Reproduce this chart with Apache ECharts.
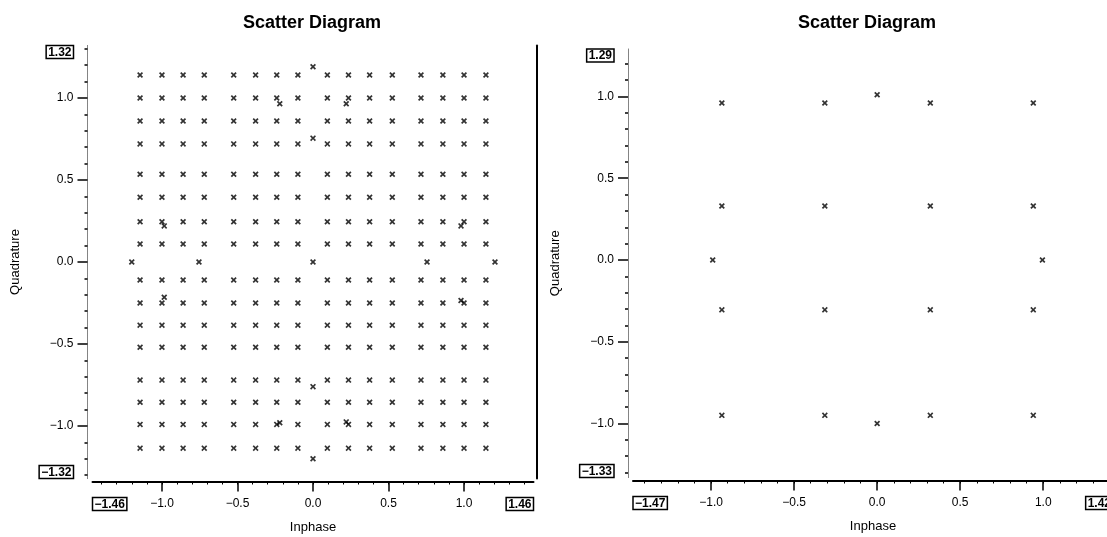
<!DOCTYPE html>
<html>
<head>
<meta charset="utf-8">
<script src="https://cdn.jsdelivr.net/npm/echarts@6/dist/echarts.min.js"></script>
<style>
  html, body { margin: 0; padding: 0; background: #fff; }
  #chart { width: 1107px; height: 537px; }
</style>
</head>
<body>
<div id="chart"></div>
<script>
// left diagram: 16 x 16 grid of levels plus some extra points
const leftXLevels = [-1.145, -1.0, -0.86, -0.72, -0.525, -0.38, -0.24, -0.1, 0.095, 0.235, 0.375, 0.525, 0.715, 0.86, 1.0, 1.145];
const leftYLevels = [1.14, 1.0, 0.86, 0.72, 0.535, 0.395, 0.245, 0.11, -0.11, -0.25, -0.385, -0.52, -0.72, -0.855, -0.99, -1.135];
const leftExtra = [
  [0, 1.19], [0, 0.755], [0, 0], [0, -0.76], [0, -1.2],
  [-1.2, 0], [-0.755, 0], [0.755, 0], [1.205, 0],
  [-0.22, 0.965], [0.22, 0.965], [-0.985, 0.22], [0.98, 0.22],
  [-0.985, -0.215], [0.98, -0.235], [-0.22, -0.98], [0.22, -0.975]
];
const leftXRange = [-1.46, 1.46];
const leftYRange = [-1.32, 1.32];

// right diagram: 4 x 4 plus four points on the axes
const rightXLevels = [-0.935, -0.315, 0.32, 0.94];
const rightYLevels = [0.96, 0.33, -0.305, -0.95];
const rightExtra = [[0, 1.01], [-0.99, 0], [0.995, 0], [0, -1.0]];
const rightXRange = [-1.47, 1.42];
const rightYRange = [-1.33, 1.29];

const majorTicks = [-1.0, -0.5, 0.0, 0.5, 1.0];

const FONT = "'Liberation Sans', Arial, sans-serif";
const CROSS = 'path://M0,2L2,0L5,3L8,0L10,2L7,5L10,8L8,10L5,7L2,10L0,8L3,5Z';

function gridPoints(xs, ys, extra) {
  let pts = [];
  ys.forEach((y) => {
    xs.forEach((x) => pts.push([x, y]));
  });
  return pts.concat(extra);
}

function minorTicks(range) {
  let out = [];
  for (let i = Math.ceil(range[0] * 10); i <= Math.floor(range[1] * 10); i++) {
    out.push(i / 10);
  }
  return out;
}

function fmt(range) {
  return function (v) {
    if (Math.abs(v - range[0]) < 1e-6 || Math.abs(v - range[1]) < 1e-6) {
      return '{box|' + v.toFixed(2).replace('-', '\u2212') + '}';
    }
    return v.toFixed(1).replace('-', '\u2212');
  };
}

const boxStyle = {
  box: {
    borderColor: '#000',
    borderWidth: 1.5,
    padding: [1, 2, 0, 2],
    fontWeight: 'bold',
    fontSize: 12,
    lineHeight: 13,
    color: '#000',
    fontFamily: FONT,
  },
};

function xAxes(gridIndex, range) {
  return [
    {
      type: 'value', gridIndex: gridIndex, position: 'bottom',
      min: range[0], max: range[1], offset: 3,
      name: 'Inphase', nameLocation: 'middle', nameGap: 39,
      nameTextStyle: { color: '#000', fontSize: 13, fontFamily: FONT },
      axisLine: { show: true, onZero: false, lineStyle: { color: '#000', width: 2 } },
      axisTick: { show: true, customValues: minorTicks(range), length: 3, lineStyle: { color: '#000', width: 1 } },
      axisLabel: {
        customValues: [range[0]].concat(majorTicks, [range[1]]),
        formatter: fmt(range), margin: 16, color: '#000', fontSize: 12, fontFamily: FONT,
        alignMinLabel: 'left', alignMaxLabel: 'right', rich: boxStyle,
      },
      splitLine: { show: false },
    },
    {
      type: 'value', gridIndex: gridIndex, position: 'bottom',
      min: range[0], max: range[1], offset: 3,
      axisLine: { show: false, onZero: false },
      axisTick: { show: true, customValues: majorTicks, length: 10, lineStyle: { color: '#000', width: 1.5 } },
      axisLabel: { show: false },
      splitLine: { show: false },
    },
  ];
}

function yAxes(gridIndex, range) {
  return [
    {
      type: 'value', gridIndex: gridIndex, position: 'left',
      min: range[0], max: range[1], offset: 5,
      name: 'Quadrature', nameLocation: 'middle', nameGap: 66,
      nameTextStyle: { color: '#000', fontSize: 13, fontFamily: FONT },
      axisLine: { show: true, onZero: false, lineStyle: { color: '#777', width: 1, type: 'dotted' } },
      axisTick: { show: true, customValues: minorTicks(range), length: 3, lineStyle: { color: '#000', width: 1.5 } },
      axisLabel: {
        customValues: [range[0]].concat(majorTicks, [range[1]]),
        formatter: fmt(range), margin: 14, color: '#000', fontSize: 12, fontFamily: FONT,
        verticalAlignMinLabel: 'bottom', verticalAlignMaxLabel: 'top', rich: boxStyle,
      },
      splitLine: { show: false },
    },
    {
      type: 'value', gridIndex: gridIndex, position: 'left',
      min: range[0], max: range[1], offset: 5,
      axisLine: { show: false, onZero: false },
      axisTick: { show: true, customValues: majorTicks, length: 10, lineStyle: { color: '#000', width: 1.5 } },
      axisLabel: { show: false },
      splitLine: { show: false },
    },
  ];
}

let chart = echarts.init(document.getElementById('chart'));

let yList = yAxes(0, leftYRange).concat(yAxes(1, rightYRange));
// right border of the left diagram
yList.push({
  type: 'value', gridIndex: 0, position: 'right',
  min: leftYRange[0], max: leftYRange[1], offset: 3,
  axisLine: { show: true, onZero: false, lineStyle: { color: '#000', width: 2 } },
  axisTick: { show: false }, axisLabel: { show: false }, splitLine: { show: false },
});

let option = {
  backgroundColor: '#fff',
  animation: false,
  title: [
    { text: 'Scatter Diagram', left: 243, top: 14, padding: 0,
      textStyle: { color: '#000', fontSize: 18, fontWeight: 'bold', fontFamily: FONT } },
    { text: 'Scatter Diagram', left: 798, top: 14, padding: 0,
      textStyle: { color: '#000', fontSize: 18, fontWeight: 'bold', fontFamily: FONT } },
  ],
  grid: [
    { left: 92.5, width: 441, top: 45.5, height: 433, outerBoundsMode: 'none' },
    { left: 633, width: 480, top: 49, height: 428.5, outerBoundsMode: 'none' },
  ],
  xAxis: xAxes(0, leftXRange).concat(xAxes(1, rightXRange)),
  yAxis: yList,
  series: [
    {
      type: 'scatter', xAxisIndex: 0, yAxisIndex: 0,
      symbol: CROSS, symbolSize: 6, silent: true,
      itemStyle: { color: '#000' },
      data: gridPoints(leftXLevels, leftYLevels, leftExtra),
    },
    {
      type: 'scatter', xAxisIndex: 2, yAxisIndex: 2,
      symbol: CROSS, symbolSize: 6, silent: true,
      itemStyle: { color: '#000' },
      data: gridPoints(rightXLevels, rightYLevels, rightExtra),
    },
  ],
};
option && chart.setOption(option);
</script>
</body>
</html>
